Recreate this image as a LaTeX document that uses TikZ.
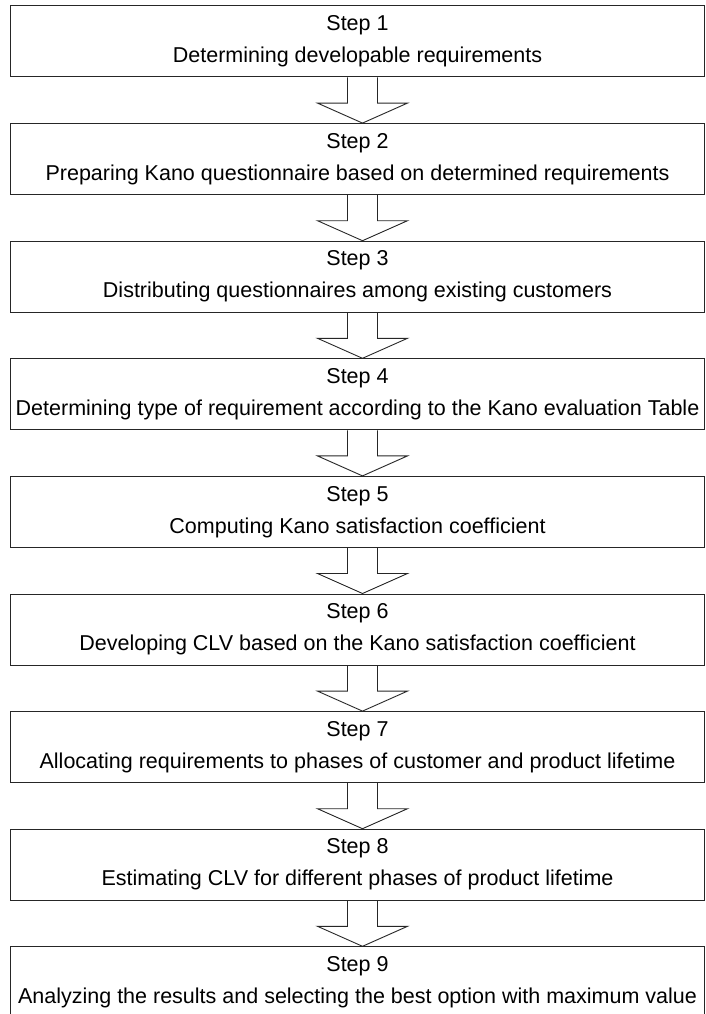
\documentclass[tikz,border=0pt]{standalone}
\usepackage{fontspec}
\setmainfont{Liberation Sans}
\usetikzlibrary{calc}

\begin{document}
\begin{tikzpicture}[x=1pt, y=1pt,
  stepbox/.style={draw=black!85, line width=1pt, rectangle, inner sep=0pt,
    minimum width=694.5pt, minimum height=71pt, align=center,
    font=\fontsize{21.5}{32}\selectfont},
  blockarrow/.style={draw=black!85, line width=0.9pt, line join=miter}]
  \useasboundingbox (0,0) rectangle (705,-1014);

  \node[stepbox] (S1) at (357.5,-41.5) {Step 1\\Determining developable requirements};
  \node[stepbox] (S2) at (357.5,-159.1) {Step 2\\Preparing Kano questionnaire based on determined requirements};
  \node[stepbox] (S3) at (357.5,-276.7) {Step 3\\Distributing questionnaires among existing customers};
  \node[stepbox] (S4) at (357.5,-394.3) {Step 4\\Determining type of requirement according to the Kano evaluation Table};
  \node[stepbox] (S5) at (357.5,-511.9) {Step 5\\Computing Kano satisfaction coefficient};
  \node[stepbox] (S6) at (357.5,-629.5) {Step 6\\Developing CLV based on the Kano satisfaction coefficient};
  \node[stepbox] (S7) at (357.5,-747.1) {Step 7\\Allocating requirements to phases of customer and product lifetime};
  \node[stepbox] (S8) at (357.5,-864.7) {Step 8\\Estimating CLV for different phases of product lifetime};
  \node[stepbox] (S9) at (357.5,-982.3) {Step 9\\Analyzing the results and selecting the best option with maximum value};

  % hollow block arrows between the steps
  \draw[blockarrow] ($(S1.south)+(-10,0)$) -- ($(S2.north)+(-10,20)$) -- ($(S2.north)+(-40,20)$) -- ($(S2.north)+(5,0)$) -- ($(S2.north)+(50,20)$) -- ($(S2.north)+(20,20)$) -- ($(S1.south)+(20,0)$);
  \draw[blockarrow] ($(S2.south)+(-10,0)$) -- ($(S3.north)+(-10,20)$) -- ($(S3.north)+(-40,20)$) -- ($(S3.north)+(5,0)$) -- ($(S3.north)+(50,20)$) -- ($(S3.north)+(20,20)$) -- ($(S2.south)+(20,0)$);
  \draw[blockarrow] ($(S3.south)+(-10,0)$) -- ($(S4.north)+(-10,20)$) -- ($(S4.north)+(-40,20)$) -- ($(S4.north)+(5,0)$) -- ($(S4.north)+(50,20)$) -- ($(S4.north)+(20,20)$) -- ($(S3.south)+(20,0)$);
  \draw[blockarrow] ($(S4.south)+(-10,0)$) -- ($(S5.north)+(-10,20)$) -- ($(S5.north)+(-40,20)$) -- ($(S5.north)+(5,0)$) -- ($(S5.north)+(50,20)$) -- ($(S5.north)+(20,20)$) -- ($(S4.south)+(20,0)$);
  \draw[blockarrow] ($(S5.south)+(-10,0)$) -- ($(S6.north)+(-10,20)$) -- ($(S6.north)+(-40,20)$) -- ($(S6.north)+(5,0)$) -- ($(S6.north)+(50,20)$) -- ($(S6.north)+(20,20)$) -- ($(S5.south)+(20,0)$);
  \draw[blockarrow] ($(S6.south)+(-10,0)$) -- ($(S7.north)+(-10,20)$) -- ($(S7.north)+(-40,20)$) -- ($(S7.north)+(5,0)$) -- ($(S7.north)+(50,20)$) -- ($(S7.north)+(20,20)$) -- ($(S6.south)+(20,0)$);
  \draw[blockarrow] ($(S7.south)+(-10,0)$) -- ($(S8.north)+(-10,20)$) -- ($(S8.north)+(-40,20)$) -- ($(S8.north)+(5,0)$) -- ($(S8.north)+(50,20)$) -- ($(S8.north)+(20,20)$) -- ($(S7.south)+(20,0)$);
  \draw[blockarrow] ($(S8.south)+(-10,0)$) -- ($(S9.north)+(-10,20)$) -- ($(S9.north)+(-40,20)$) -- ($(S9.north)+(5,0)$) -- ($(S9.north)+(50,20)$) -- ($(S9.north)+(20,20)$) -- ($(S8.south)+(20,0)$);
\end{tikzpicture}
\end{document}
